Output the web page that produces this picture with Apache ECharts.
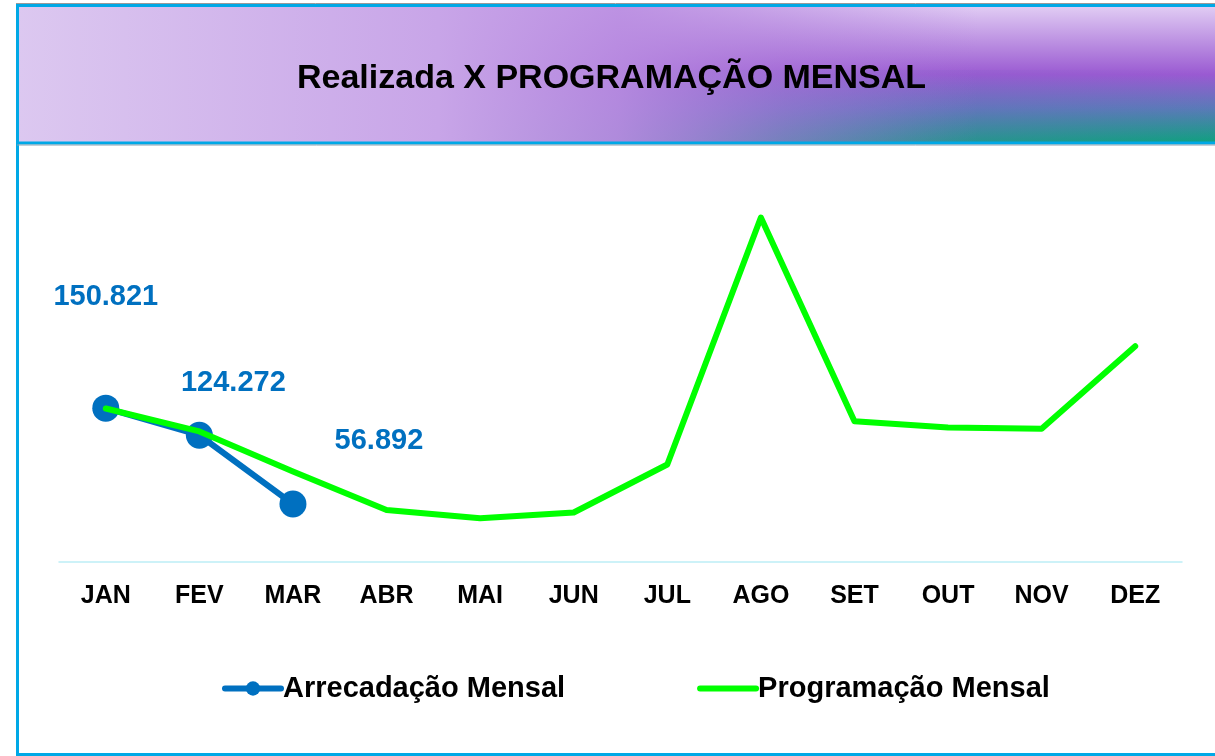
<!DOCTYPE html>
<html>
<head>
<meta charset="utf-8">
<style>
  html, body { margin: 0; padding: 0; background: #fff; }
  #chart { width: 1215px; height: 756px; }
</style>
<script src="https://cdn.jsdelivr.net/npm/echarts@6/dist/echarts.min.js"></script>
</head>
<body>
<div id="chart"></div>
<script>
var months = ['JAN', 'FEV', 'MAR', 'ABR', 'MAI', 'JUN', 'JUL', 'AGO', 'SET', 'OUT', 'NOV', 'DEZ'];
var arrecadacao = [150821, 124272, 56892];
var programacao = [150500, 128000, 88700, 51000, 42900, 48500, 95600, 337700, 138000, 131900, 130600, 211600];

(function(){
  var font = '"Liberation Sans", Arial, sans-serif';
  var blue = '#0070c0';
  var green = '#00ff00';
  var frame = '#00a8e6';

  // label offsets for the realized series (centre of label relative to point)
  var labelOffsets = [[0, -111], [34, -52], [86, -63]];

  function fmt(v) {
    return String(Math.round(v)).replace(/\B(?=(\d{3})+(?!\d))/g, '.');
  }

  var realData = arrecadacao.map(function(v, i) {
    return {
      value: v,
      label: { offset: labelOffsets[i] }
    };
  });

  var chart = echarts.init(document.getElementById('chart'), null, { renderer: 'canvas' });
  chart.setOption({
    animation: false,
    backgroundColor: '#fff',
    textStyle: { fontFamily: font },
    graphic: [
      // banner base: vertical gradient (light top, purple middle, teal bottom)
      {
        type: 'rect', z: -10,
        shape: { x: 18, y: 7, width: 1200, height: 135 },
        style: {
          fill: new echarts.graphic.LinearGradient(0, 0, 0, 1, [
            { offset: 0, color: '#e0cbf3' },
            { offset: 0.5, color: '#9a5ad2' },
            { offset: 0.75, color: '#5a7ab8' },
            { offset: 1, color: '#10a080' }
          ])
        }
      },
      // purple tint over the lower right so the teal only shows at the far right
      {
        type: 'rect', z: -9.5,
        shape: { x: 18, y: 70, width: 1200, height: 72 },
        style: {
          fill: new echarts.graphic.LinearGradient(0, 0, 1, 0, [
            { offset: 0, color: 'rgba(130,100,200,0)' },
            { offset: 0.55, color: 'rgba(130,100,200,0.6)' },
            { offset: 0.75, color: 'rgba(130,100,200,0.25)' },
            { offset: 1, color: 'rgba(130,100,200,0)' }
          ])
        }
      },
      // horizontal lavender wash fading to the right
      {
        type: 'rect', z: -9,
        shape: { x: 18, y: 7, width: 1200, height: 135 },
        style: {
          fill: new echarts.graphic.LinearGradient(0, 0, 1, 0, [
            { offset: 0, color: 'rgba(220,200,240,1)' },
            { offset: 0.35, color: 'rgba(200,165,232,1)' },
            { offset: 0.5, color: 'rgba(185,140,225,0.9)' },
            { offset: 0.64, color: 'rgba(175,125,220,0.45)' },
            { offset: 0.8, color: 'rgba(170,120,220,0)' },
            { offset: 1, color: 'rgba(170,120,220,0)' }
          ])
        }
      },
      // outer frame
      {
        type: 'rect', z: -5,
        shape: { x: 17.5, y: 5.5, width: 1210, height: 749 },
        style: { fill: 'none', stroke: frame, lineWidth: 3 }
      },
      {
        type: 'line', z: -5,
        shape: { x1: 16, y1: 3.5, x2: 1215, y2: 3.5 },
        style: { stroke: '#9a9a9a', lineWidth: 1 }
      },
      // banner bottom border
      {
        type: 'line', z: -5,
        shape: { x1: 17, y1: 143, x2: 1215, y2: 143 },
        style: { stroke: frame, lineWidth: 3 }
      },
      {
        type: 'line', z: -5,
        shape: { x1: 17, y1: 145, x2: 1215, y2: 145 },
        style: { stroke: '#8aa0b0', lineWidth: 1 }
      }
    ],
    title: {
      text: 'Realizada X PROGRAMAÇÃO MENSAL',
      left: 297,
      top: 62,
      padding: 0,
      textStyle: { fontFamily: font, fontSize: 34, fontWeight: 'bold', color: '#000' }
    },
    legend: {
      left: 222,
      top: 674,
      itemWidth: 56,
      itemHeight: 18,
      itemGap: 132,
      padding: 0,
      lineStyle: { width: 6, cap: 'round' },
      textStyle: { fontFamily: font, fontSize: 29, fontWeight: 'bold', color: '#000', padding: [0, 0, 0, -3] },
      data: [
        { name: 'Arrecadação Mensal' },
        { name: 'Programação Mensal', itemStyle: { color: 'rgba(0,0,0,0)' }, lineStyle: { color: green, width: 6, cap: 'round' } }
      ]
    },
    grid: { left: 59, right: 33, top: 154, bottom: 194 },
    xAxis: {
      type: 'category',
      data: months,
      boundaryGap: true,
      axisLine: { lineStyle: { color: '#bdeef6', width: 1.5 } },
      axisTick: { show: false },
      axisLabel: { color: '#000', fontSize: 25, fontWeight: 'bold', fontFamily: font, margin: 22 }
    },
    yAxis: {
      type: 'value',
      min: 0,
      max: 400000,
      show: false,
      splitLine: { show: false }
    },
    series: [
      {
        name: 'Arrecadação Mensal',
        type: 'line',
        data: realData,
        z: 2,
        symbol: 'circle',
        symbolSize: 27,
        lineStyle: { color: blue, width: 6 },
        itemStyle: { color: blue },
        label: {
          show: true,
          position: 'inside',
          color: blue,
          fontSize: 29,
          fontWeight: 'bold',
          fontFamily: font,
          formatter: function(p) { return fmt(p.value); }
        }
      },
      {
        name: 'Programação Mensal',
        type: 'line',
        data: programacao,
        z: 3,
        symbol: 'none',
        lineStyle: { color: green, width: 6, cap: 'round', join: 'round' },
        itemStyle: { color: green }
      }
    ]
  });
  window.addEventListener('resize', function(){ chart.resize(); });
})();
</script>
</body>
</html>
